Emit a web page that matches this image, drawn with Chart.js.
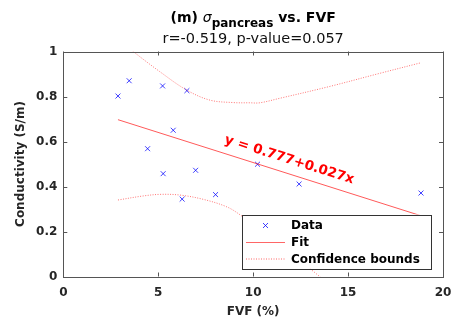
<!DOCTYPE html>
<html>
<head>
<meta charset="utf-8">
<script src="https://cdn.jsdelivr.net/npm/chart.js@4.4.1/dist/chart.umd.min.js"></script>
<style>
  html, body { margin: 0; padding: 0; background: #fff; }
  #wrap { width: 453px; height: 323px; }
</style>
</head>
<body>
<div id="wrap"><canvas id="fvfChart" width="453" height="323"></canvas></div>
<script>
// values
const fvfValues = [2.88, 3.47, 5.23, 6.51, 5.79, 4.44, 5.26, 6.97, 6.26, 8.02, 10.23, 12.42, 18.84];
const conductivityValues = [0.802, 0.870, 0.847, 0.826, 0.650, 0.568, 0.457, 0.472, 0.344, 0.364, 0.499, 0.411, 0.371];

const fitX = [2.88, 18.84];
const fitY = [0.697, 0.270];

const upperX = [2.88, 3.68, 5.09, 6.49, 7.72, 8.95, 9.83, 10.35, 11.4, 14.0, 16.67, 18.84];
const upperY = [1.055, 1.0, 0.910, 0.829, 0.784, 0.773, 0.772, 0.772, 0.792, 0.844, 0.903, 0.950];

const lowerX = [2.88, 4.21, 5.09, 6.14, 7.37, 8.6, 9.33, 10.5, 11.5, 12.5, 13.5, 15.0, 17.0, 18.84];
const lowerY = [0.340, 0.358, 0.365, 0.362, 0.343, 0.310, 0.273, 0.197, 0.132, 0.067, 0.0, -0.11, -0.26, -0.41];

const xTicks = [0, 5, 10, 15, 20];
const xTickLabels = ['0', '5', '10', '15', '20'];
const yTicks = [0, 0.2, 0.4, 0.6, 0.8, 1];
const yTickLabels = ['0', '0.2', '0.4', '0.6', '0.8', '1'];

const titleParts = ['(m) ', 'σ', 'pancreas', ' vs. FVF'];
const subtitleText = 'r=-0.519, p-value=0.057';
const fitLabel = 'y = 0.777+0.027x';
const fitLabelAt = { x: 11.9, y: 0.518 };
const legendLabels = ['Data', 'Fit', 'Confidence bounds'];

const FONT = '"DejaVu Sans", sans-serif';
const toPoints = (xs, ys) => xs.map((x, i) => ({ x: x, y: ys[i] }));

// title with subscript, drawn by hand
const titlePlugin = {
    id: 'titleBlock',
    afterDraw(chart) {
        const ctx = chart.ctx;
        const area = chart.chartArea;
        const cx = (area.left + area.right) / 2;
        const parts = [
            { text: titleParts[0], font: 'bold 14px ' + FONT, dy: 0 },
            { text: titleParts[1], font: 'italic 14px ' + FONT, dy: 0 },
            { text: titleParts[2], font: 'bold 12px ' + FONT, dy: 5 },
            { text: titleParts[3], font: 'bold 14px ' + FONT, dy: 0 },
        ];
        ctx.save();
        ctx.fillStyle = '#000';
        ctx.textBaseline = 'alphabetic';
        ctx.textAlign = 'left';
        let total = 0;
        parts.forEach((p) => {
            ctx.font = p.font;
            p.w = ctx.measureText(p.text).width;
            total += p.w;
        });
        let x = cx - total / 2;
        parts.forEach((p) => {
            ctx.font = p.font;
            ctx.fillText(p.text, x, 22 + p.dy);
            x += p.w;
        });
        ctx.font = '14.5px ' + FONT;
        ctx.textAlign = 'center';
        ctx.fillStyle = '#111';
        ctx.fillText(subtitleText, cx, 43);
        ctx.restore();
    }
};

// box around plot + ticks pointing inward (MATLAB style)
const boxPlugin = {
    id: 'boxTicks',
    afterDatasetsDraw(chart) {
        const ctx = chart.ctx;
        const a = chart.chartArea;
        const xs = chart.scales.x;
        const ys = chart.scales.y;
        const len = 4;
        ctx.save();
        ctx.strokeStyle = '#555';
        ctx.lineWidth = 1;
        ctx.beginPath();
        xTicks.forEach((t) => {
            const px = Math.round(xs.getPixelForValue(t)) + 0.5;
            ctx.moveTo(px, a.bottom); ctx.lineTo(px, a.bottom - len);
            ctx.moveTo(px, a.top); ctx.lineTo(px, a.top + len);
        });
        yTicks.forEach((t) => {
            const py = Math.round(ys.getPixelForValue(t)) + 0.5;
            ctx.moveTo(a.left, py); ctx.lineTo(a.left + len, py);
            ctx.moveTo(a.right, py); ctx.lineTo(a.right - len, py);
        });
        ctx.stroke();
        ctx.strokeRect(Math.round(a.left) + 0.5, Math.round(a.top) + 0.5,
            Math.round(a.right - a.left), Math.round(a.bottom - a.top));
        ctx.restore();
    }
};

// rotated equation along the fit line
const fitLabelPlugin = {
    id: 'fitLabel',
    afterDatasetsDraw(chart) {
        const ctx = chart.ctx;
        const xs = chart.scales.x;
        const ys = chart.scales.y;
        const x0 = xs.getPixelForValue(fitX[0]), y0 = ys.getPixelForValue(fitY[0]);
        const x1 = xs.getPixelForValue(fitX[1]), y1 = ys.getPixelForValue(fitY[1]);
        const angle = Math.atan2(y1 - y0, x1 - x0);
        ctx.save();
        ctx.translate(xs.getPixelForValue(fitLabelAt.x), ys.getPixelForValue(fitLabelAt.y));
        ctx.rotate(angle);
        ctx.font = 'bold 13.5px ' + FONT;
        ctx.fillStyle = '#ff0000';
        ctx.textAlign = 'center';
        ctx.textBaseline = 'middle';
        ctx.fillText(fitLabel, 0, 0);
        ctx.restore();
    }
};

// legend box in lower right corner of the plot
const legendPlugin = {
    id: 'cornerLegend',
    afterDraw(chart) {
        const ctx = chart.ctx;
        const a = chart.chartArea;
        const right = a.right - 12;
        const bottom = a.bottom - 8;
        const w = 189, h = 54;
        const left = right - w, top = bottom - h;
        ctx.save();
        ctx.fillStyle = '#fff';
        ctx.fillRect(left, top, w, h);
        ctx.strokeStyle = '#333';
        ctx.lineWidth = 1;
        ctx.strokeRect(Math.round(left) + 0.5, Math.round(top) + 0.5, w, h);

        const rows = [top + 11, top + 28, top + 44.5];
        const sx0 = left + 4, sx1 = left + 43;
        // data marker
        const mx = (sx0 + sx1) / 2, my = rows[0];
        ctx.strokeStyle = 'rgba(0,0,255,0.75)';
        ctx.beginPath();
        ctx.moveTo(mx - 2.5, my - 2.5); ctx.lineTo(mx + 2.5, my + 2.5);
        ctx.moveTo(mx - 2.5, my + 2.5); ctx.lineTo(mx + 2.5, my - 2.5);
        ctx.stroke();
        // fit line
        ctx.strokeStyle = 'rgba(255,0,0,0.6)';
        ctx.beginPath();
        ctx.moveTo(sx0, rows[1]); ctx.lineTo(sx1, rows[1]);
        ctx.stroke();
        // dotted
        ctx.setLineDash([1, 1.5]);
        ctx.beginPath();
        ctx.moveTo(sx0, rows[2]); ctx.lineTo(sx1, rows[2]);
        ctx.stroke();
        ctx.setLineDash([]);

        ctx.fillStyle = '#000';
        ctx.font = 'bold 12px ' + FONT;
        ctx.textBaseline = 'middle';
        ctx.textAlign = 'left';
        legendLabels.forEach((lab, i) => ctx.fillText(lab, left + 49, rows[i] + 0.5));
        ctx.restore();
    }
};

const ctx = document.getElementById('fvfChart').getContext('2d');
new Chart(ctx, {
    type: 'scatter',
    data: {
        datasets: [
            {
                label: 'Confidence bounds',
                data: toPoints(upperX, upperY),
                showLine: true,
                borderColor: 'rgba(255,0,0,0.55)',
                borderWidth: 1,
                borderDash: [1, 1.5],
                tension: 0.35,
                pointRadius: 0,
            },
            {
                label: 'Confidence bounds lower',
                data: toPoints(lowerX, lowerY),
                showLine: true,
                borderColor: 'rgba(255,0,0,0.55)',
                borderWidth: 1,
                borderDash: [1, 1.5],
                tension: 0.35,
                pointRadius: 0,
            },
            {
                label: 'Fit',
                data: toPoints(fitX, fitY),
                showLine: true,
                borderColor: 'rgba(255,0,0,0.65)',
                borderWidth: 1,
                pointRadius: 0,
            },
            {
                label: 'Data',
                data: toPoints(fvfValues, conductivityValues),
                pointStyle: 'crossRot',
                pointRadius: 3.5,
                borderColor: 'rgba(0,0,255,0.75)',
                backgroundColor: 'rgba(0,0,255,0.75)',
                borderWidth: 1,
            },
        ],
    },
    options: {
        responsive: false,
        animation: false,
        layout: { padding: { top: 51.5, right: 10, left: 0, bottom: 0 } },
        plugins: {
            legend: { display: false },
            tooltip: { enabled: false },
            title: { display: false },
        },
        scales: {
            x: {
                type: 'linear',
                min: 0,
                max: 20,
                afterBuildTicks: (scale) => { scale.ticks = xTicks.map((v) => ({ value: v })); },
                afterFit: (scale) => {
                    scale.height = 46.5;
                    scale.paddingLeft = 0;
                    scale.paddingRight = 0;
                },
                grid: { display: false, drawTicks: false },
                border: { display: false },
                ticks: {
                    padding: 9,
                    color: '#262626',
                    font: { family: 'DejaVu Sans', size: 12, weight: 'bold' },
                    callback: (value) => xTickLabels[xTicks.indexOf(value)],
                },
                title: {
                    display: true,
                    text: 'FVF (%)',
                    color: '#262626',
                    padding: { top: 0, bottom: 4 },
                    font: { family: 'DejaVu Sans', size: 12, weight: 'bold' },
                },
            },
            y: {
                type: 'linear',
                min: 0,
                max: 1,
                afterBuildTicks: (scale) => { scale.ticks = yTicks.map((v) => ({ value: v })); },
                afterFit: (scale) => {
                    scale.width = 63.3;
                    scale.paddingTop = 0;
                    scale.paddingBottom = 0;
                },
                grid: { display: false, drawTicks: false },
                border: { display: false },
                ticks: {
                    padding: 6,
                    color: '#262626',
                    font: { family: 'DejaVu Sans', size: 12, weight: 'bold' },
                    callback: (value) => yTickLabels[yTicks.indexOf(value)],
                },
                title: {
                    display: true,
                    text: 'Conductivity (S/m)',
                    color: '#262626',
                    padding: { top: 14, bottom: 0 },
                    font: { family: 'DejaVu Sans', size: 12, weight: 'bold' },
                },
            },
        },
    },
    plugins: [boxPlugin, fitLabelPlugin, legendPlugin, titlePlugin],
});
</script>
</body>
</html>
